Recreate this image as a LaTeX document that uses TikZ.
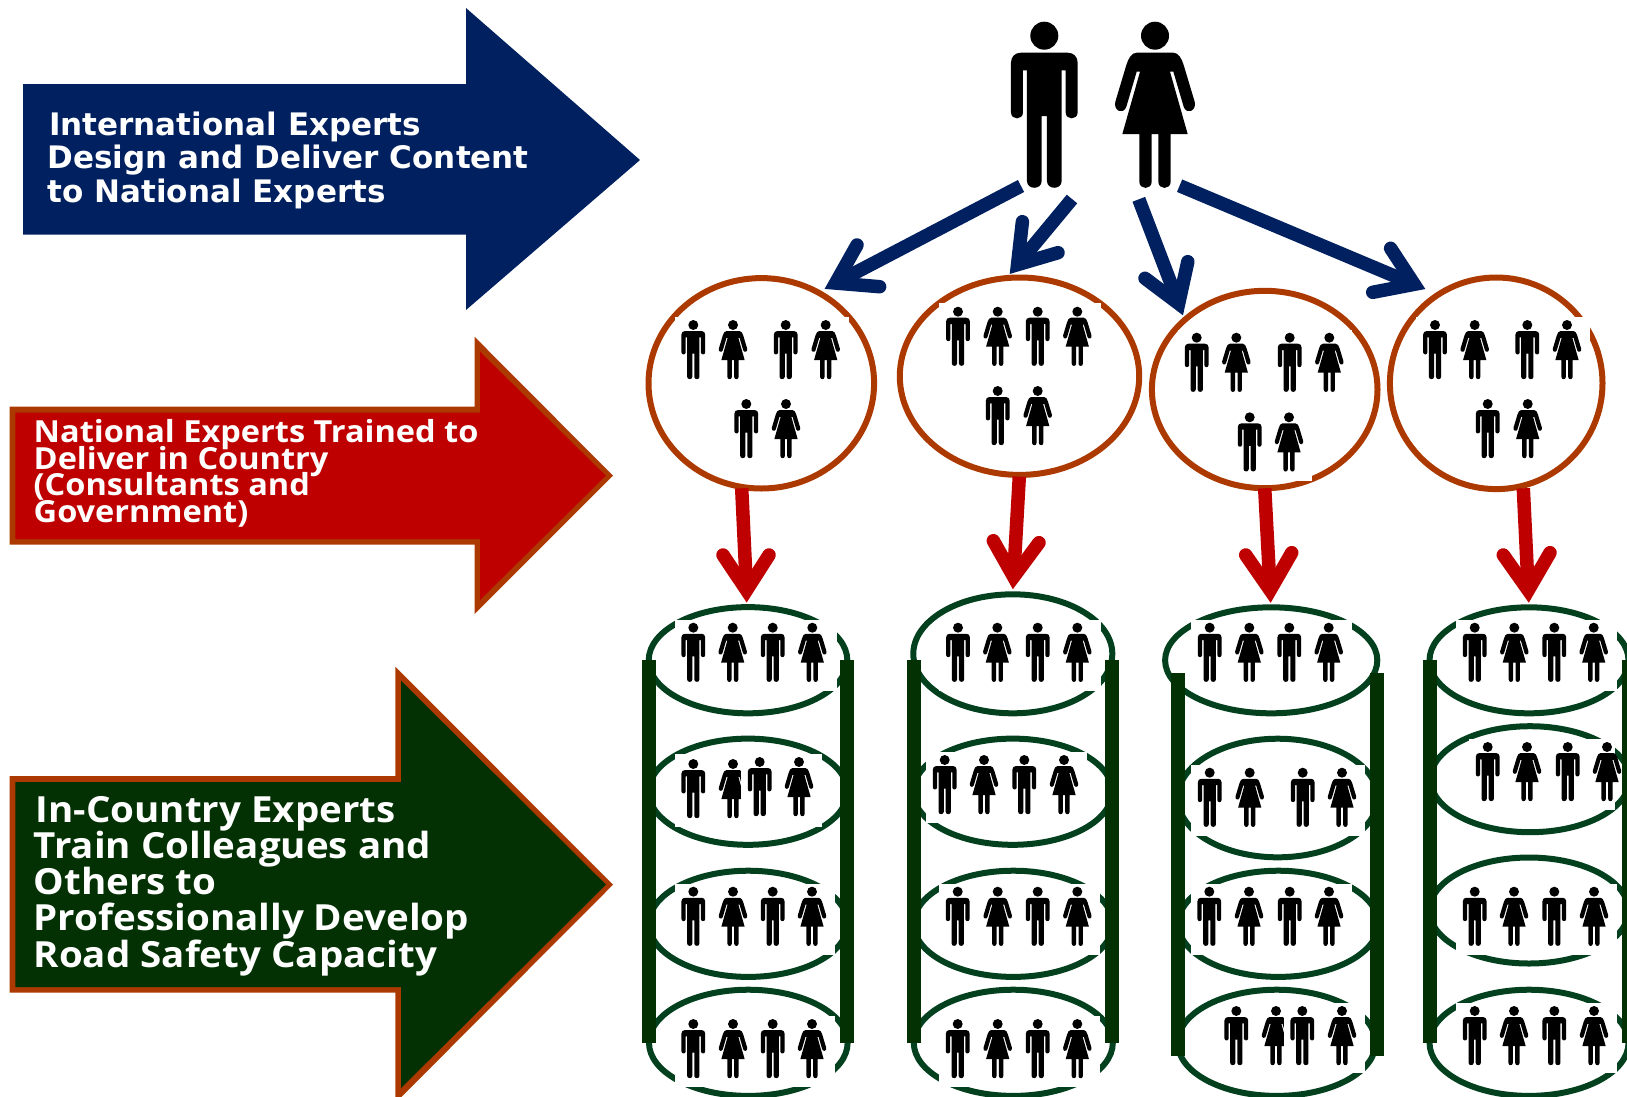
\documentclass[tikz,border=0pt]{standalone}
\usepackage{fontspec}
\usetikzlibrary{shapes.geometric,calc}
\newfontfamily\bluefont{DejaVu Sans}
\newfontfamily\labfont{Open Sans}[FakeStretch=1.07]
\newcommand\tightlines{\lineskiplimit=-100pt\relax}
\definecolor{bluefill}{RGB}{0,32,96}
\definecolor{redfill}{RGB}{190,0,0}
\definecolor{rust}{RGB}{171,57,0}
\definecolor{greenfill}{RGB}{3,49,3}
\definecolor{ringgreen}{RGB}{3,65,30}
\tikzset{
  man/.pic={\fill[black] (0,42) circle[radius=42];
    \fill[black] (-70,93) -- (70,93) .. controls (88,93) and (100,105) .. (100,123) -- (100,272) .. controls (100,296) and (64,296) .. (64,272) -- (64,146) -- (52,146) -- (52,478) .. controls (52,505) and (8,505) .. (8,478) -- (8,283) -- (-8,283) -- (-8,478) .. controls (-8,505) and (-52,505) .. (-52,478) -- (-52,146) -- (-64,146) -- (-64,272) .. controls (-64,296) and (-100,296) .. (-100,272) -- (-100,123) .. controls (-100,105) and (-88,93) .. (-70,93) -- cycle;},
  woman/.pic={\fill[black] (0,42) circle[radius=42];
    \fill[black] (-55,93) -- (55,93) .. controls (70,93) and (80,110) .. (86,130) -- (119,240) .. controls (126,268) and (94,280) .. (86,255) -- (55,150) -- (45,150) -- (98,337) -- (47,337) -- (47,480) .. controls (47,505) and (10,505) .. (10,480) -- (10,337) -- (-10,337) -- (-10,480) .. controls (-10,505) and (-47,505) .. (-47,480) -- (-47,337) -- (-98,337) -- (-45,150) -- (-55,150) -- (-86,255) .. controls (-94,280) and (-126,268) .. (-119,240) -- (-86,130) .. controls (-80,110) and (-70,93) .. (-55,93) -- cycle;},
  circ/.style={ellipse,draw=rust,line width=6pt,inner sep=0pt,outer sep=0pt,fill=none},
  ringe/.style={ellipse,draw=ringgreen,line width=6pt,inner sep=0pt,outer sep=0pt,fill=none},
  bar/.style={fill=greenfill,draw=none},
  patch/.style={fill=white,draw=none},
  arrowtext/.style={text=white,align=left,inner sep=0pt,anchor=base west},
}
\newcommand\Mf[2]{\pic[scale=.1187] at (#1,#2) {man};}
\newcommand\Wf[2]{\pic[scale=.1187] at (#1,#2) {woman};}
\newcommand\Ee[6]{\node[#1,minimum width=#5*2pt,minimum height=#6*2pt] (#2) at (#3,#4) {};}
\newcommand\Wr[4]{\fill[patch] (#1,#2) rectangle (#3,#4);}
\newcommand\Chev[5]{% colour, tail, tip, barb1, barb2
  \draw[#1,line width=13.5pt] (#2) -- ($(#3)!16pt!(#2)$);
  \draw[#1,line width=13.5pt,line cap=round,line join=miter,miter limit=10] (#4) -- ($(#3)!16.5pt!(#2)$) -- (#5);
}
\begin{document}
\begin{tikzpicture}[x=1pt,y=-1pt]
\useasboundingbox (0,0) rectangle (1627,1096);
\clip (0,0) rectangle (1627,1096);
% big arrows
\fill[bluefill] (23,84) -- (466,84) -- (466,8) -- (640,160) -- (466,310) -- (466,234.5) -- (23,234.5) -- cycle;
\node[arrowtext,font=\bluefont\bfseries\fontsize{31}{33.5}\selectfont\tightlines] (bluetext) at (47.5,202) {\hspace{1.5pt}International Experts\\Design and Deliver Content\\to National Experts};
\fill[rust] (9.5,406.7) -- (474.5,406.7) -- (474.5,336.7) -- (613,475.7) -- (474.5,614) -- (474.5,544.7) -- (9.5,544.7) -- cycle;
\fill[redfill] (15.4,412.7) -- (480,412.7) -- (480,351.7) -- (605.8,475.7) -- (480,600) -- (480,539) -- (15.4,539) -- cycle;
\node[arrowtext,font=\labfont\bfseries\fontsize{30.4}{26.7}\selectfont\tightlines] (redtext) at (33.5,522.5) {National Experts Trained to\\Deliver in Country\\(Consultants and\\Government)};
\fill[rust] (9.5,776) -- (395.4,776) -- (395.4,666.7) -- (613,884.7) -- (395.4,1103) -- (395.4,992.7) -- (9.5,992.7) -- cycle;
\fill[greenfill] (15.4,782) -- (401,782) -- (401,680.7) -- (606,884.7) -- (401,1088) -- (401,987) -- (15.4,987) -- cycle;
\node[arrowtext,font=\labfont\bfseries\fontsize{36}{36.2}\selectfont\tightlines] (greentext) at (33.5,967) {\hspace{2pt}In-Country Experts\\Train Colleagues and\\Others to\\Professionally Develop\\Road Safety Capacity};
% top figures
\pic[scale=.3333] at (1044.3,21.7) {man};
\pic[scale=.3333] at (1155,21.7) {woman};
% circles
\Ee{circ}{c1}{761.3}{383.3}{112.8}{105.2}
\Ee{circ}{c2}{1019.5}{376.2}{119.7}{98.7}
\Ee{circ}{c3}{1264.7}{389.5}{112.8}{98.7}
\Ee{circ}{c4}{1496.2}{383.3}{106.3}{105.8}
\Wr{675}{316.7}{849}{385}
\Wr{939.3}{303.3}{1100.7}{372}
\Wr{1178}{330}{1351.7}{398}
\Wr{1240}{410}{1311.7}{480.7}
\Wr{1415.7}{316.7}{1590}{385}
\Mf{693.3}{320}\Wf{733}{320}\Mf{785.7}{320}\Wf{825.7}{320}\Mf{746.3}{399}\Wf{786}{399}
\Mf{958}{306.7}\Wf{997.7}{306.7}\Mf{1037.7}{306.7}\Wf{1077.3}{306.7}\Mf{997.7}{386}\Wf{1037.7}{386}
\Mf{1196.7}{332.7}\Wf{1236.3}{332.7}\Mf{1289.7}{332.7}\Wf{1329.3}{332.7}\Mf{1249.7}{412.3}\Wf{1289}{412.3}
\Mf{1435}{320}\Wf{1474.7}{320}\Mf{1527.3}{320}\Wf{1567}{320}\Mf{1487.7}{399}\Wf{1527.7}{399}
% cylinder 1
\Ee{ringe}{a1}{748}{660.2}{99.3}{53.1}
\Ee{ringe}{a2}{748}{791.7}{99.3}{53.1}
\Ee{ringe}{a3}{748.3}{923.8}{99.3}{53.1}
\Ee{ringe}{a4}{748.3}{1042.8}{99.3}{53.1}
\Wr{675}{620}{836.7}{691}
\Wr{675}{754.3}{821.7}{827.3}
\Wr{675}{884}{835}{955}
\Wr{675}{1016}{835}{1087.3}
\Mf{693.3}{622.7}\Wf{732.7}{622.7}\Mf{772.7}{622.7}\Wf{812.3}{622.7}
\Mf{693.3}{759}\Wf{733}{759}\Wr{741}{752}{770}{826}\Mf{759.7}{757}\Wf{799}{757}
\Mf{693.3}{886.7}\Wf{733}{886.7}\Mf{772.7}{886.7}\Wf{812}{886.7}
\Mf{693.3}{1019}\Wf{733}{1019}\Mf{772.7}{1019}\Wf{812}{1019}
\fill[bar] (642,660) rectangle (656,1042.7);
\fill[bar] (840,660) rectangle (854,1042.7);
% cylinder 2
\Ee{ringe}{b1}{1012.8}{653.8}{99.5}{59.5}
\Ee{ringe}{b2}{1012.7}{791.7}{99.5}{53.1}
\Ee{ringe}{b3}{1013.3}{923.8}{99.5}{53.1}
\Ee{ringe}{b4}{1013.3}{1042.8}{99.5}{53.1}
\Wr{939}{620}{1100.7}{690.7}
\Wr{926}{752.3}{1086.7}{823.3}
\Wr{939}{884}{1100}{955}
\Wr{939}{1016}{1100}{1087.3}
\Mf{958}{622.7}\Wf{997.3}{622.7}\Mf{1037.7}{622.7}\Wf{1077.3}{622.7}
\Mf{944.7}{755}\Wf{984}{755}\Mf{1024.3}{755}\Wf{1064}{755}
\Mf{957.7}{886.7}\Wf{997.7}{886.7}\Mf{1037.7}{886.7}\Wf{1077.3}{886.7}
\Mf{957.7}{1019}\Wf{997.7}{1019}\Mf{1037.7}{1019}\Wf{1077.3}{1019}
\fill[bar] (907,660) rectangle (921,1042.7);
\fill[bar] (1105,660) rectangle (1119,1042.7);
% cylinder 3
\Ee{ringe}{d1}{1271.2}{660.3}{106.1}{53}
\Ee{ringe}{d2}{1277.7}{798}{100}{59.3}
\Ee{ringe}{d3}{1278.3}{923.8}{100}{53.1}
\Ee{ringe}{d4}{1276.7}{1042.8}{99}{53.1}
\Wr{1191}{620}{1351.7}{690}
\Wr{1191}{765}{1365}{836}
\Wr{1191}{884}{1352.3}{955}
\Wr{1217.7}{1002.7}{1365}{1072.7}
\Mf{1209.7}{622.7}\Wf{1249.3}{622.7}\Mf{1289.3}{622.7}\Wf{1328.7}{622.7}
\Mf{1209.7}{767.7}\Wf{1249.7}{767.7}\Mf{1302.7}{767.7}\Wf{1342}{767.7}
\Mf{1209.3}{886.7}\Wf{1249}{886.7}\Mf{1289.7}{886.7}\Wf{1329}{886.7}
\Mf{1236.3}{1006}\Wf{1276}{1006}\Wr{1284}{1002.7}{1300}{1072.7}\Mf{1302.3}{1006}\Wf{1342}{1006}
\fill[bar] (1171,673) rectangle (1185,1055.7);
\fill[bar] (1370,673) rectangle (1384,1055.7);
% cylinder 4
\Ee{ringe}{f1}{1529}{660.3}{99.5}{53}
\Ee{ringe}{f2}{1530}{779.2}{99.5}{53}
\Ee{ringe}{f3}{1529}{910.5}{99.5}{53}
\Ee{ringe}{f4}{1529}{1042.8}{99.5}{53.1}
\Wr{1456}{620}{1616.7}{691}
\Wr{1469}{739}{1615}{810}
\Wr{1455.7}{884}{1617.3}{955}
\Wr{1455.7}{1002.7}{1617.3}{1072.7}
\Mf{1474.7}{622.7}\Wf{1514.3}{622.7}\Mf{1554.3}{622.7}\Wf{1593.7}{622.7}
\Mf{1487.7}{742}\Wf{1527}{742}\Mf{1567.7}{742}\Wf{1607}{742}
\Mf{1474.7}{886.7}\Wf{1514}{886.7}\Mf{1554.3}{886.7}\Wf{1594}{886.7}
\Mf{1474.7}{1006}\Wf{1514}{1006}\Mf{1554.3}{1006}\Wf{1594}{1006}
\fill[bar] (1423,660) rectangle (1437,1042.7);
\fill[bar] (1622,660) rectangle (1636,1042.7);
% blue connectors
\coordinate (bt1) at (1021,186); \coordinate (bh1) at (821,290.7);
\coordinate (bt2) at (1072,199); \coordinate (bh2) at (1007,277.3);
\coordinate (bt3) at (1138.8,199.3); \coordinate (bh3) at (1184.5,319);
\coordinate (bt4) at (1179.6,185.7); \coordinate (bh4) at (1429.4,290.7);
\Chev{bluefill}{bt1}{bh1}{857,245}{879.6,286.7}
\Chev{bluefill}{bt2}{bh2}{1022.4,221.7}{1058,252.7}
\Chev{bluefill}{bt3}{bh3}{1145,278.3}{1187.8,261.7}
\Chev{bluefill}{bt4}{bh4}{1390.6,248.3}{1372.7,292.3}
% red connectors
\coordinate (rt1) at (741.7,488.3); \coordinate (rh1) at (747.3,606.7);
\coordinate (rt2) at (1019.3,476.7); \coordinate (rh2) at (1012.7,593.3);
\coordinate (rt3) at (1264.7,488.3); \coordinate (rh3) at (1271,606.7);
\coordinate (rt4) at (1523.3,488.3); \coordinate (rh4) at (1529,606.7);
\Chev{redfill}{rt1}{rh1}{723,555}{769,555}
\Chev{redfill}{rt2}{rh2}{993.3,540.7}{1039,542.7}
\Chev{redfill}{rt3}{rh3}{1245.7,555}{1291.7,552.7}
\Chev{redfill}{rt4}{rh4}{1503.3,555}{1550,552.7}
\end{tikzpicture}
\end{document}
